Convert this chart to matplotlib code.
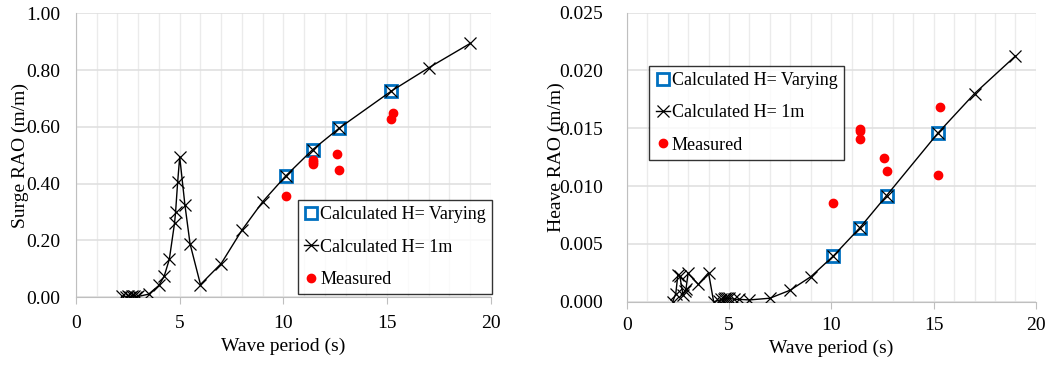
import matplotlib.pyplot as plt
from matplotlib.ticker import MultipleLocator

plt.rcParams['font.family'] = ['Liberation Serif', 'DejaVu Serif']

# Surge data
surge_T = [2.2, 2.4, 2.5, 2.6, 2.7, 2.8, 2.9, 3.0, 3.5, 4.0, 4.25, 4.5, 4.75, 4.8,
           4.9, 5.0, 5.25, 5.5, 6.0, 7.0, 8.0, 9.0, 10.1, 11.4, 12.7, 15.2, 17.0, 19.0]
surge_1m = [0.002, 0.001, 0.002, 0.001, 0.003, 0.002, 0.001, 0.002, 0.01, 0.041, 0.073,
            0.133, 0.26, 0.298, 0.404, 0.494, 0.325, 0.187, 0.044, 0.118, 0.236, 0.336,
            0.426, 0.519, 0.596, 0.726, 0.808, 0.894]
surge_var_T = [10.1, 11.4, 12.7, 15.2]
surge_var = [0.426, 0.519, 0.596, 0.726]
surge_meas_T = [10.1, 11.4, 11.4, 11.4, 12.6, 12.7, 15.2, 15.3]
surge_meas = [0.356, 0.482, 0.476, 0.47, 0.504, 0.449, 0.629, 0.647]

# Heave data
heave_T = [2.25, 2.4, 2.5, 2.6, 2.75, 2.85, 2.9, 3.0, 3.5, 4.0, 4.25, 4.5, 4.6, 4.75,
           4.8, 4.9, 5.0, 5.25, 5.5, 6.0, 7.0, 8.0, 9.0, 10.1, 11.4, 12.7, 15.2, 17.0, 19.0]
heave_1m = [0.0, 0.0007, 0.0023, 0.0022, 0.0006, 0.0009, 0.0011, 0.00245, 0.0015, 0.0025,
            0.0, 0.0001, 0.0002, 0.0002, 0.0003, 0.0003, 0.0003, 0.0002, 0.0002, 0.00015,
            0.0003, 0.001, 0.00216, 0.00395, 0.0064, 0.00917, 0.01456, 0.018, 0.02125]
heave_var_T = [10.1, 11.4, 12.7, 15.2]
heave_var = [0.00395, 0.0064, 0.00917, 0.01456]
heave_meas_T = [10.1, 11.4, 11.4, 11.4, 12.6, 12.7, 15.2, 15.3]
heave_meas = [0.0085, 0.01495, 0.01475, 0.0141, 0.0124, 0.0113, 0.011, 0.01685]

fig = plt.figure(figsize=(10.52, 3.67), dpi=100)
ax1 = fig.add_axes([0.0722, 0.1907, 0.3945, 0.773])
ax2 = fig.add_axes([0.5957, 0.178, 0.389, 0.7875])


def style(ax, ymax, ystep, fmt, ylabel, ypad, lpad, xpad):
    ax.set_xlim(0, 20)
    ax.set_ylim(0, ymax)
    ax.xaxis.set_major_locator(MultipleLocator(5))
    ax.xaxis.set_minor_locator(MultipleLocator(1))
    ax.yaxis.set_major_locator(MultipleLocator(ystep))
    ax.yaxis.set_major_formatter(plt.FormatStrFormatter(fmt))
    ax.grid(which='both', axis='x', color='#ebebeb', lw=1)
    ax.grid(which='major', axis='y', color='#e0e0e0', lw=1.2)
    ax.set_axisbelow(True)
    for s in ['top', 'right']:
        ax.spines[s].set_visible(False)
    for s in ['left', 'bottom']:
        ax.spines[s].set_color('#bfbfbf')
    ax.tick_params(axis='x', which='major', length=5, color='#bfbfbf', labelsize=14, pad=xpad)
    ax.tick_params(axis='x', which='minor', length=0)
    ax.tick_params(axis='y', length=0, labelsize=14, pad=ypad)
    ax.set_xlabel('Wave period (s)', fontsize=14, labelpad=4)
    ax.set_ylabel(ylabel, fontsize=14, labelpad=lpad)


style(ax1, 1.0, 0.2, '%.2f', 'Surge RAO (m/m)', 11, -2, 8)
style(ax2, 0.025, 0.005, '%.3f', 'Heave RAO (m/m)', 17, -4, 6)

for ax, T, y1, Tv, yv, Tm, ym in [(ax1, surge_T, surge_1m, surge_var_T, surge_var, surge_meas_T, surge_meas),
                                  (ax2, heave_T, heave_1m, heave_var_T, heave_var, heave_meas_T, heave_meas)]:
    ax.plot(Tv, yv, ls='none', marker='s', ms=9, mfc='none', mec='#0070C0', mew=2,
            label='Calculated H= Varying', zorder=3)
    ax.plot(T, y1, color='black', lw=1, marker='x', ms=8, mew=0.9,
            label='Calculated H= 1m', zorder=4)
    ax.plot(Tm, ym, ls='none', marker='o', ms=6, color='#FF0000',
            label='Measured', zorder=5)

leg_kw = dict(fontsize=13, frameon=True, fancybox=False, edgecolor='black',
              handlelength=0.8, handletextpad=0.1, borderpad=0.35, labelspacing=0.85,
              borderaxespad=0.0)
l1 = ax1.legend(loc='lower right', bbox_to_anchor=(1.003, 0.009), **leg_kw)
l2 = ax2.legend(loc='upper left', bbox_to_anchor=(0.055, 0.817), **leg_kw)
for l in (l1, l2):
    l.get_frame().set_linewidth(1)

fig.savefig('out.png', dpi=100)
